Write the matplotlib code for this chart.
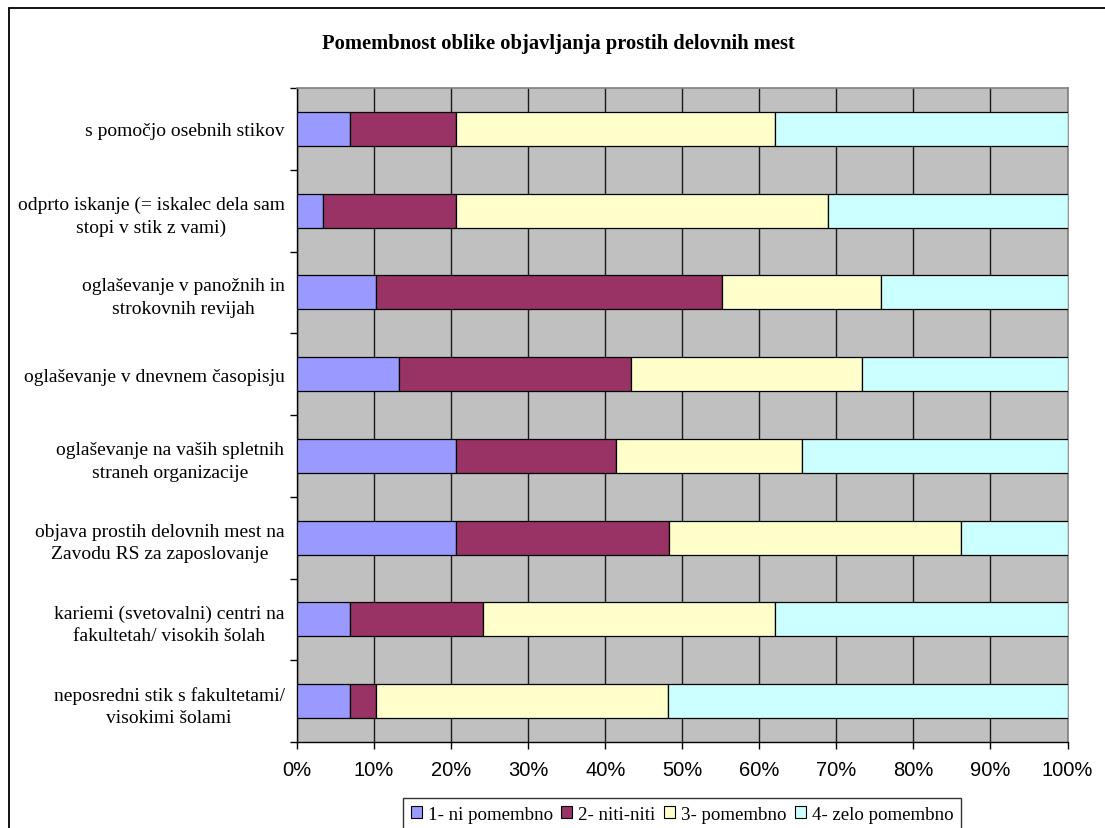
import matplotlib
matplotlib.use("Agg")
import matplotlib.pyplot as plt
import matplotlib.patches as mpatches
import numpy as np

# Survey answers (share of respondents, %) per channel of advertising vacancies
categories = [
    "s pomočjo osebnih stikov",
    "odprto iskanje (= iskalec dela sam\nstopi v stik z vami)",
    "oglaševanje v panožnih in\nstrokovnih revijah",
    "oglaševanje v dnevnem časopisju",
    "oglaševanje na vaših spletnih\nstraneh organizacije",
    "objava prostih delovnih mest na\nZavodu RS za zaposlovanje",
    "kariemi (svetovalni) centri na\nfakultetah/ visokih šolah",
    "neposredni stik s fakultetami/\nvisokimi šolami",
]
ni_pomembno = [6.9, 3.4, 10.3, 13.3, 20.7, 20.7, 6.9, 6.9]
niti_niti = [13.8, 17.2, 44.8, 30.0, 20.7, 27.6, 17.2, 3.4]
pomembno = [41.4, 48.3, 20.7, 30.0, 24.1, 37.9, 38.0, 37.9]
zelo_pomembno = [37.9, 31.1, 24.2, 26.7, 34.5, 13.8, 37.9, 51.8]

series_names = ["1- ni pomembno", "2- niti-niti", "3- pomembno", "4- zelo pomembno"]
series_colors = ["#9999FF", "#993366", "#FFFFCC", "#CCFFFF"]
xtick_values = list(range(0, 101, 10))

title = "Pomembnost oblike objavljanja prostih delovnih mest"

W, H = 1105, 829
fig = plt.figure(figsize=(W / 100, H / 100), dpi=100)
fig.patch.set_facecolor("white")

left, right, top, bottom = 297 / W, 1067.5 / W, 1 - 89 / H, 1 - 743 / H
ax = fig.add_axes([left, bottom, right - left, top - bottom])
ax.set_facecolor("#C0C0C0")

y = np.arange(len(categories))
cum = np.zeros(len(categories))
for vals, name, col in zip([ni_pomembno, niti_niti, pomembno, zelo_pomembno],
                           series_names, series_colors):
    vals = np.array(vals)
    ax.barh(y, vals, left=cum, height=0.416, color=col, edgecolor="black",
            linewidth=0.9, label=name, zorder=3)
    cum += vals

ax.set_xlim(0, 100)
ax.set_ylim(len(categories) - 0.5, -0.5)

# vertical gridlines
ax.set_xticks(xtick_values)
ax.set_xticklabels([f"{v}%" for v in xtick_values], fontfamily="Liberation Sans", fontsize=14.5)
ax.xaxis.grid(True, color="#1a1a1a", linewidth=1.0, zorder=1)
ax.set_axisbelow(True)
ax.tick_params(axis="x", direction="out", length=5, width=1, color="black", pad=8)

# category ticks at boundaries, labels at centres
ax.set_yticks(np.arange(-0.5, len(categories), 1.0))
ax.set_yticklabels([])
ax.tick_params(axis="y", which="major", direction="out", length=5, width=1, color="black")
ax.set_yticks(y, minor=True)
ax.set_yticklabels(categories, minor=True, fontfamily="Liberation Serif", fontsize=14,
                   multialignment="center", linespacing=1.45)
ax.tick_params(axis="y", which="minor", length=0, pad=9)

for side in ["left", "bottom"]:
    ax.spines[side].set_color("black")
    ax.spines[side].set_linewidth(1.0)
for side in ["top", "right"]:
    ax.spines[side].set_color("#808080")
    ax.spines[side].set_linewidth(1.2)

fig.text(558 / W, 1 - 44 / H, title, ha="center", va="center",
         fontfamily="Liberation Serif", fontweight="bold", fontsize=14.8)

leg = fig.legend(loc="upper center", bbox_to_anchor=(682 / W, 1 - 799 / H),
                 bbox_transform=fig.transFigure, ncol=4, frameon=True, fancybox=False,
                 prop={"family": "Liberation Serif", "size": 13.6},
                 handlelength=0.6, handleheight=0.6, handletextpad=0.3,
                 columnspacing=0.45, borderpad=0.4, borderaxespad=0)
leg.get_frame().set_edgecolor("black")
leg.get_frame().set_linewidth(1.0)
for h in leg.legend_handles:
    h.set_linewidth(0.8)

# outer chart frame
frame = mpatches.Rectangle((9 / W, -0.05), 1.2, 1 - 8.5 / H + 0.05,
                           transform=fig.transFigure, fill=False,
                           edgecolor="black", linewidth=1.3, clip_on=False)
fig.patches.append(frame)

fig.savefig("out.png", dpi=100)
